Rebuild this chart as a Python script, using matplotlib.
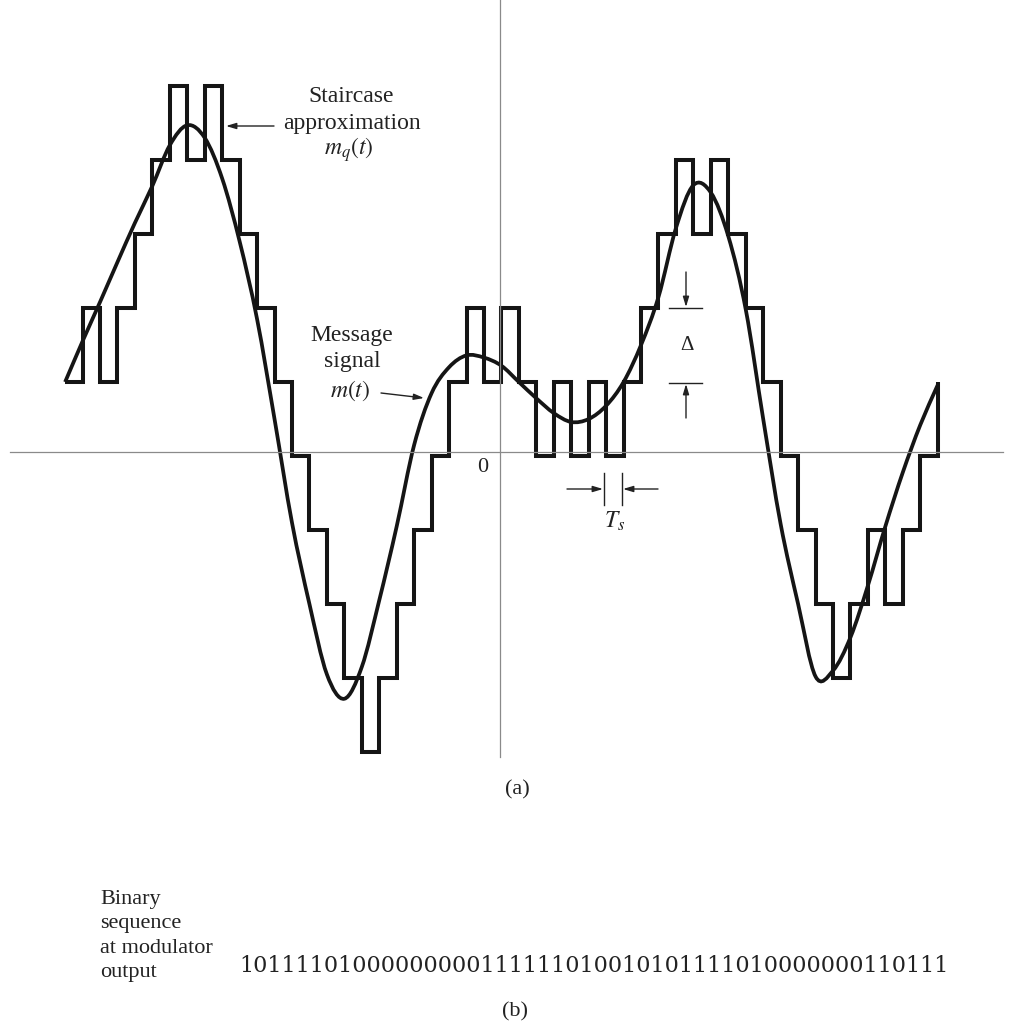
import numpy as np
import matplotlib
matplotlib.use("Agg")
import matplotlib.pyplot as plt
from matplotlib.path import Path
from matplotlib.patches import PathPatch

# Delta-modulator output bits (one per sampling instant Ts)
bits = "10111101000000000111111010010101111010000000110111"
# Staircase starting level (in units of the step size Delta) and start instant
start_level = 1
start_t = -25

# Message signal m(t), sampled once per Ts (values in units of Delta)
msg_t = np.arange(-25, 26)
msg_m = [1.00, 1.55, 2.08, 2.62, 3.15, 3.65, 4.20, 4.47, 4.30, 3.75,
         2.90, 1.85, 0.50, -0.90, -2.00, -2.95, -3.28, -2.85, -1.95, -0.95,
         0.15, 0.85, 1.20, 1.36, 1.33, 1.22, 1.00, 0.78, 0.58, 0.46,
         0.50, 0.68, 1.00, 1.50, 2.15, 3.08, 3.66, 3.56, 2.97, 1.98,
         0.50, -0.92, -2.00, -2.98, -2.90, -2.45, -1.75, -0.95, -0.22, 0.42,
         0.96]

W, H = 1014, 1034
fig = plt.figure(figsize=(W / 100, H / 100), dpi=100)
ax = fig.add_axes([0, 0, 1, 1])
ax.set_xlim(-28.73, 29.37)
ax.set_ylim(-7.81, 6.162)
ax.axis("off")

serif = ["Liberation Serif", "DejaVu Serif"]
ink = "#151515"
txt = "#222222"
axis_grey = "#8a8a8a"
tf = fig.transFigure


def fpx(x, y):
    """Figure-fraction position from pixel position (origin top-left)."""
    return (x / W, 1 - y / H)


def arrow(tip, tail):
    ax.annotate("", xy=fpx(*tip), xytext=fpx(*tail), xycoords=tf, textcoords=tf,
                arrowprops=dict(arrowstyle="-|>,head_length=0.6,head_width=0.18",
                                color=txt, lw=1.0, shrinkA=0, shrinkB=0))


# Coordinate axes
fig.add_artist(plt.Line2D([fpx(10, 0)[0], fpx(1003, 0)[0]], [fpx(0, 452)[1]] * 2,
                          transform=tf, color=axis_grey, lw=0.9))
fig.add_artist(plt.Line2D([fpx(500, 0)[0]] * 2, [fpx(0, 0)[1], fpx(0, 757)[1]],
                          transform=tf, color=axis_grey, lw=0.9))

# Staircase approximation m_q(t)
steps = np.array([1 if b == "1" else -1 for b in bits])
levels = np.concatenate([[start_level], start_level + np.cumsum(steps)])
edges = start_t + np.arange(len(levels))
ax.step(edges, levels, where="post", color=ink, lw=2.9,
        solid_joinstyle="miter", solid_capstyle="butt", zorder=3)

# Message signal: smooth curve through the samples (Catmull-Rom -> cubic Bezier)
P = np.column_stack([msg_t, msg_m]).astype(float)
ext = np.vstack([2 * P[0] - P[1], P, 2 * P[-1] - P[-2]])
verts = [tuple(P[0])]
codes = [Path.MOVETO]
for i in range(1, len(ext) - 2):
    p0, p1, p2, p3 = ext[i - 1], ext[i], ext[i + 1], ext[i + 2]
    c1 = p1 + (p2 - p0) / 6
    c2 = p2 - (p3 - p1) / 6
    verts += [tuple(c1), tuple(c2), tuple(p2)]
    codes += [Path.CURVE4] * 3
ax.add_patch(PathPatch(Path(verts, codes), fill=False, edgecolor=ink, lw=2.7,
                       transform=ax.transData, zorder=4))

# Labels
ax.text(*fpx(351, 96), "Staircase", transform=tf, ha="center", va="center",
        family=serif, fontsize=17, color=txt)
ax.text(*fpx(352, 124), "approximation", transform=tf, ha="center", va="center",
        family=serif, fontsize=17, color=txt)
ax.text(*fpx(349, 150), r"$m_q(t)$", transform=tf, ha="center", va="center",
        fontsize=17, color=txt, math_fontfamily="stix")
arrow((226, 126), (274, 126))

ax.text(*fpx(352, 335), "Message", transform=tf, ha="center", va="center",
        family=serif, fontsize=17, color=txt)
ax.text(*fpx(352, 362), "signal", transform=tf, ha="center", va="center",
        family=serif, fontsize=17, color=txt)
ax.text(*fpx(350, 391), r"$m(t)$", transform=tf, ha="center", va="center",
        fontsize=17, color=txt, math_fontfamily="stix")
arrow((424, 398), (381, 393))

ax.text(*fpx(483, 468), "0", transform=tf, ha="center", va="center",
        family=serif, fontsize=16, color=txt)

# Step-size marker Delta
for yy in (308, 383):
    fig.add_artist(plt.Line2D([fpx(669, 0)[0], fpx(702, 0)[0]], [fpx(0, yy)[1]] * 2,
                              transform=tf, color=txt, lw=1.0))
arrow((686, 307), (686, 272))
arrow((686, 384), (686, 418))
ax.text(*fpx(687, 346), "Δ", transform=tf, ha="center", va="center",
        family=serif, fontsize=15, color=txt)

# Sampling-period marker Ts
for xx in (604, 622):
    fig.add_artist(plt.Line2D([fpx(xx, 0)[0]] * 2, [fpx(0, 473)[1], fpx(0, 505)[1]],
                              transform=tf, color=txt, lw=1.0))
arrow((603, 489), (567, 489))
arrow((623, 489), (658, 489))
ax.text(*fpx(615, 521), r"$T_s$", transform=tf, ha="center", va="center",
        fontsize=17, color=txt, math_fontfamily="stix")

ax.text(*fpx(517, 790), "(a)", transform=tf, ha="center", va="center",
        family=serif, fontsize=16, color=txt)

# Part (b): bit sequence
ax.text(*fpx(100, 936), "Binary\nsequence\nat modulator\noutput", transform=tf,
        ha="left", va="center", family=serif, fontsize=16, color=txt,
        linespacing=1.4)
ax.text(*fpx(594, 966), bits, transform=tf, ha="center", va="center",
        family=["DejaVu Serif"], fontsize=16, color=txt)
ax.text(*fpx(515, 1012), "(b)", transform=tf, ha="center", va="center",
        family=serif, fontsize=16, color=txt)

fig.savefig("out.png", dpi=100, facecolor="white")
